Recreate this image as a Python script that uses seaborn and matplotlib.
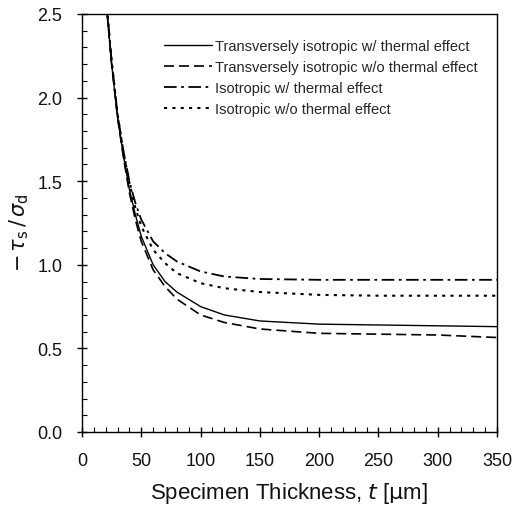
import numpy as np
import pandas as pd
import matplotlib
matplotlib.use("Agg")
import matplotlib.pyplot as plt
import seaborn as sns
from matplotlib.ticker import MultipleLocator, FormatStrFormatter

# thickness t [um]
thickness = [20, 25, 30, 35, 40, 45, 50, 60, 70, 80, 100, 120, 150, 200, 250, 300, 350]

# -tau_s / sigma_d for each case
ti_thermal = [2.60, 2.20, 1.88, 1.65, 1.45, 1.30, 1.17, 1.00, 0.90, 0.837, 0.75, 0.70, 0.664, 0.645, 0.64, 0.635, 0.63]
ti_no_thermal = [2.60, 2.20, 1.88, 1.64, 1.43, 1.27, 1.14, 0.97, 0.87, 0.795, 0.70, 0.655, 0.616, 0.59, 0.585, 0.58, 0.565]
iso_thermal = [2.62, 2.22, 1.90, 1.68, 1.50, 1.37, 1.27, 1.14, 1.07, 1.02, 0.96, 0.93, 0.915, 0.91, 0.91, 0.91, 0.91]
iso_no_thermal = [2.62, 2.22, 1.90, 1.67, 1.49, 1.34, 1.23, 1.09, 1.01, 0.95, 0.89, 0.86, 0.837, 0.82, 0.815, 0.815, 0.815]

labels = ["Transversely isotropic w/ thermal effect",
          "Transversely isotropic w/o thermal effect",
          "Isotropic w/ thermal effect",
          "Isotropic w/o thermal effect"]
series = [ti_thermal, ti_no_thermal, iso_thermal, iso_no_thermal]
styles = ["-", (0, (6, 3)), (0, (7, 2.5, 1.5, 2.5)), (0, (1.5, 2.5))]
widths = [1.0, 1.2, 1.3, 1.5]

sns.set_theme(style="ticks")
plt.rcParams['font.family'] = ['Liberation Sans', 'DejaVu Sans']
plt.rcParams['mathtext.fontset'] = 'dejavusans'

fig = plt.figure(figsize=(5.14, 5.06), dpi=100)
ax = fig.add_axes([0.1595, 0.1443, 0.8075, 0.8261])

for lab, vals, ls, lw in zip(labels, series, styles, widths):
    df = pd.DataFrame({"t": thickness, "ratio": vals})
    sns.lineplot(data=df, x="t", y="ratio", ax=ax, color="black",
                 linestyle=ls, linewidth=lw, label=lab)

ax.set_xlim(0, 350)
ax.set_ylim(0, 2.5)
ax.xaxis.set_major_locator(MultipleLocator(50))
ax.xaxis.set_minor_locator(MultipleLocator(10))
ax.yaxis.set_major_locator(MultipleLocator(0.5))
ax.yaxis.set_minor_locator(MultipleLocator(0.1))
ax.yaxis.set_major_formatter(FormatStrFormatter("%.1f"))
ax.tick_params(which="major", direction="inout", length=7.5, width=1.0, pad=10.5,
               labelsize=13, color="black", labelcolor="#111111")
ax.tick_params(which="minor", direction="in", length=3.8, width=0.8, color="black")
for s in ax.spines.values():
    s.set_color("black")
    s.set_linewidth(1.0)

ax.set_xlabel(r"Specimen Thickness, $t$ [$\mathrm{\mu}$m]", fontsize=16,
              color="#111111", labelpad=8)
ax.set_ylabel(r"$-\,\tau_{\mathrm{s}}\,/\,\sigma_{\mathrm{d}}$", fontsize=15,
              color="#111111")
ax.yaxis.set_label_coords(-0.122, 0.478)

ax.legend(loc="upper right", bbox_to_anchor=(0.985, 0.972), frameon=False,
          fontsize=10.5, handlelength=3.3, handletextpad=0.2, labelspacing=0.48)

fig.savefig("out.png", dpi=100)
